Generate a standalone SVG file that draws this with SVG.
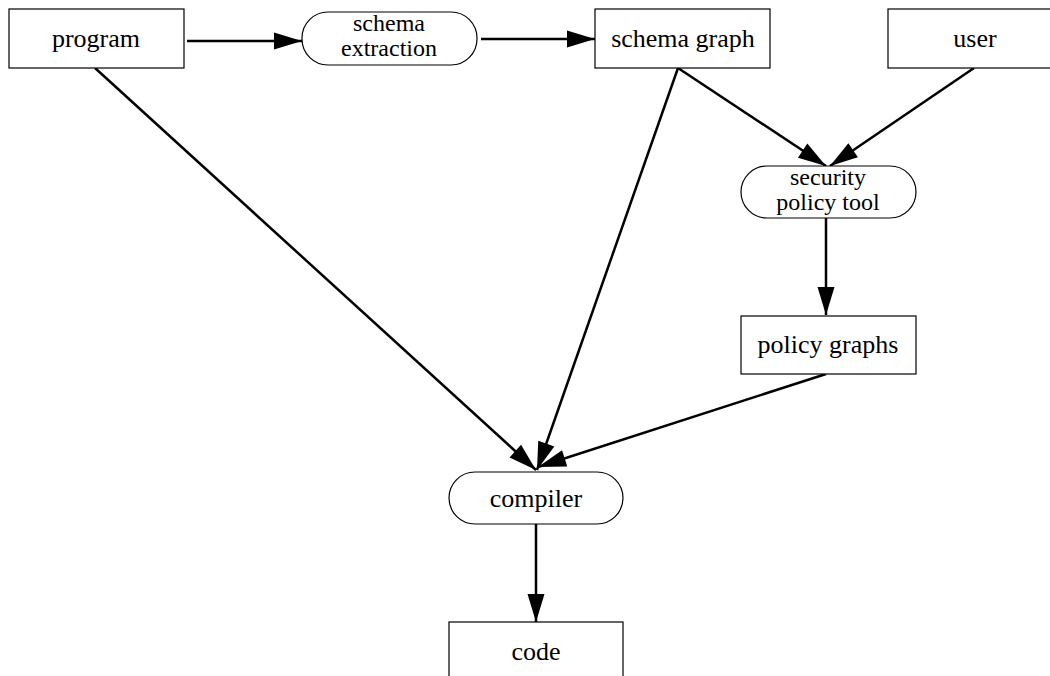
<svg xmlns="http://www.w3.org/2000/svg" width="1050" height="676" viewBox="0 0 1050 676">
<style>
.box{fill:#fff;stroke:#000;stroke-width:1.2}
.t{font-family:"Liberation Serif","DejaVu Serif",serif;font-size:26px;text-anchor:middle;fill:#000}
.t2{font-family:"Liberation Serif","DejaVu Serif",serif;font-size:24px;text-anchor:middle;fill:#000}
.c{stroke:#000;stroke-width:2.5;fill:none;marker-end:url(#ah)}
</style>
<defs>
<marker id="ah" markerUnits="userSpaceOnUse" markerWidth="29" markerHeight="18" refX="28" refY="8.5" orient="auto" overflow="visible">
<path d="M0,0 L28,8.5 L0,17 z" fill="#000"/>
</marker>
</defs>
<rect width="1050" height="676" fill="#fff"/>
<g id="connectors">
<line class="c" x1="187" y1="41" x2="302" y2="41"/>
<line class="c" x1="481" y1="39" x2="595" y2="39"/>
<line class="c" x1="678" y1="68" x2="826" y2="166"/>
<line class="c" x1="974" y1="68" x2="830" y2="166"/>
<line class="c" x1="826" y1="218" x2="826" y2="315"/>
<line class="c" x1="95" y1="68" x2="536" y2="470"/>
<line class="c" x1="678" y1="68" x2="537" y2="470"/>
<line class="c" x1="826" y1="374" x2="538" y2="467"/>
<line class="c" x1="536" y1="524" x2="536" y2="622"/>
</g>
<g id="program"><rect class="box" x="9" y="9" width="175" height="59"/><text class="t" x="96" y="47">program</text></g>
<g id="schema-extraction"><rect class="box" x="302" y="12" width="175" height="53" rx="26" ry="26"/><text class="t2" x="389" y="31">schema</text><text class="t2" x="389" y="56">extraction</text></g>
<g id="schema-graph"><rect class="box" x="595" y="9" width="175" height="59"/><text class="t" x="683" y="47">schema graph</text></g>
<g id="user"><rect class="box" x="888" y="9" width="175" height="59"/><text class="t" x="975" y="47">user</text></g>
<g id="security-policy-tool"><rect class="box" x="741" y="166" width="175" height="52" rx="26" ry="26"/><text class="t2" x="828" y="185">security</text><text class="t2" x="828" y="210">policy tool</text></g>
<g id="policy-graphs"><rect class="box" x="741" y="316" width="175" height="58"/><text class="t" x="828" y="353">policy graphs</text></g>
<g id="compiler"><rect class="box" x="449" y="472" width="174" height="52" rx="26" ry="26"/><text class="t" x="536" y="507">compiler</text></g>
<g id="code"><rect class="box" x="449" y="622" width="174" height="70"/><text class="t" x="536" y="660">code</text></g>
</svg>
